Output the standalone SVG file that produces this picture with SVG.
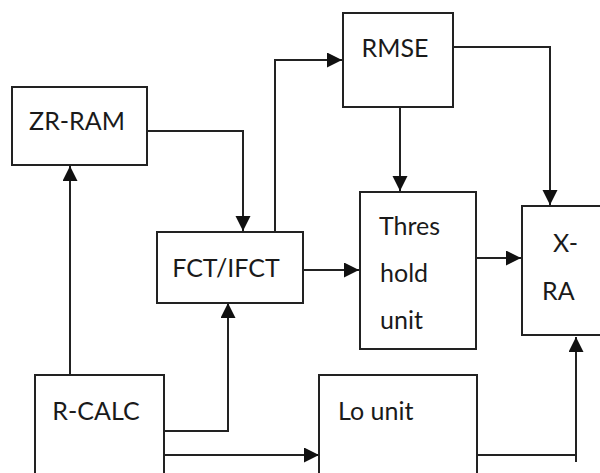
<svg xmlns="http://www.w3.org/2000/svg" width="600" height="473" viewBox="0 0 600 473">
<style>
.box{fill:#fff;stroke:#222;stroke-width:2}
.lbl{font-family:Lato,"Open Sans",sans-serif;font-size:25px;fill:#1a1a1a}
.c{text-anchor:middle}
.ln{fill:none;stroke:#222;stroke-width:2}
</style>
<defs>
<marker id="ah" markerUnits="userSpaceOnUse" markerWidth="16" markerHeight="16" refX="15" refY="7.5" orient="auto">
<path d="M0,0 L15,7.5 L0,15 Z" fill="#111"/>
</marker>
</defs>
<rect width="600" height="473" fill="#fff"/>
<g id="connectors">
<path class="ln" d="M70,375 V166" marker-end="url(#ah)"/>
<path class="ln" d="M147,131 H243 V231" marker-end="url(#ah)"/>
<path class="ln" d="M275,232 V60 H342" marker-end="url(#ah)"/>
<path class="ln" d="M453,47 H550 V205" marker-end="url(#ah)"/>
<path class="ln" d="M400,107 V191" marker-end="url(#ah)"/>
<path class="ln" d="M303,270 H359" marker-end="url(#ah)"/>
<path class="ln" d="M476,258 H521" marker-end="url(#ah)"/>
<path class="ln" d="M164,431 H228 V303" marker-end="url(#ah)"/>
<path class="ln" d="M164,455 H319" marker-end="url(#ah)"/>
<path class="ln" d="M477,455 H576"/>
<path class="ln" d="M576,462 V337" marker-end="url(#ah)"/>
</g>
<g id="zr-ram"><rect class="box" x="12" y="87" width="135" height="78"/><text class="lbl c" x="77" y="130">ZR-RAM</text></g>
<g id="rmse"><rect class="box" x="343" y="13" width="110" height="94"/><text class="lbl c" x="395" y="57">RMSE</text></g>
<g id="fct"><rect class="box" x="157" y="232" width="146" height="71"/><text class="lbl c" x="226" y="277">FCT/IFCT</text></g>
<g id="thres"><rect class="box" x="360" y="192" width="116" height="157"/><text class="lbl" x="379" y="235">Thres</text><text class="lbl" x="380" y="282">hold</text><text class="lbl" x="380" y="329">unit</text></g>
<g id="xra"><rect class="box" x="522" y="206" width="90" height="129"/><text class="lbl" x="553" y="252">X-</text><text class="lbl" x="542" y="300">RA</text></g>
<g id="rcalc"><rect class="box" x="35" y="375" width="129" height="110"/><text class="lbl c" x="96" y="420">R-CALC</text></g>
<g id="lo"><rect class="box" x="319" y="375" width="158" height="110"/><text class="lbl" x="338" y="420">Lo unit</text></g>
</svg>
